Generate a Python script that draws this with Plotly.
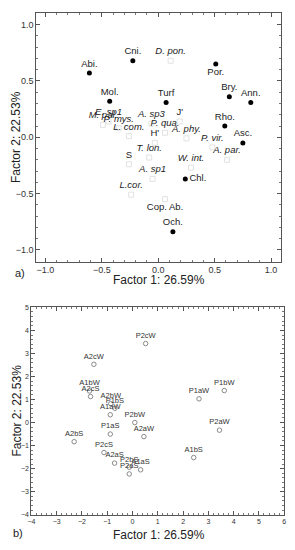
import plotly.graph_objects as go

# ---- Panel a) : factor loadings ----
# filled dots (taxa groups)
a_dot_labels = ["Abi.", "Cni.", "Mol.", "Por.", "Bry.", "Ann.", "Turf", "Rho.", "Asc.", "Chl.", "Och."]
a_dot_f1 = [-0.61, -0.225, -0.43, 0.51, 0.63, 0.82, 0.07, 0.59, 0.75, 0.24, 0.13]
a_dot_f2 = [0.57, 0.68, 0.32, 0.65, 0.36, 0.31, 0.31, 0.10, -0.05, -0.37, -0.84]

# open squares (species and indices)
a_open_labels = ["D. pon.", "E. sp1", "M. pal.", "P. mys.", "L. com.", "A. sp3", "P. qua.",
                 "J'", "A. phy.", "H'", "T. lon.", "S", "W. int.", "A. sp1", "L.cor.",
                 "P. vir.", "A. par.", "Cop. Ab."]
a_open_italic = [True, True, True, True, True, True, True,
                 False, True, False, True, False, True, True, True,
                 True, True, False]
a_open_f1 = [0.11, -0.44, -0.49, -0.35, -0.26, -0.06, 0.06,
             0.19, 0.25, -0.03, -0.08, -0.26, 0.29, -0.05, -0.24,
             0.48, 0.61, 0.06]
a_open_f2 = [0.68, 0.14, 0.11, 0.08, 0.01, 0.12, 0.04,
             0.14, -0.01, -0.05, -0.18, -0.24, -0.27, -0.37, -0.51,
             -0.09, -0.20, -0.55]

# ---- Panel b) : factor scores of samples ----
b_labels = ["P2cW", "A2cW", "A1bW", "A2cS", "A2bW", "P1bS", "A1aW", "P2bW", "A2aW",
            "P1aS", "A2bS", "P2cS", "A2aS", "P2bS", "A1aS", "P2aS",
            "P1bW", "P1aW", "P2aW", "A1bS"]
b_f1 = [0.52, -1.53, -1.70, -1.66, -0.86, -0.70, -0.88, 0.09, 0.45,
        -0.88, -2.31, -1.13, -0.71, -0.13, 0.32, -0.13,
        3.63, 2.63, 3.44, 2.42]
b_f2 = [3.43, 2.53, 1.37, 1.13, 0.82, 0.62, 0.34, 0.00, -0.61,
        -0.50, -0.83, -1.30, -1.76, -1.94, -2.05, -2.23,
        1.39, 1.03, -0.33, -1.52]

axis_title = "Factor 1: 26.59%"
axis_title_y = "Factor 2: 22.53%"

FONT = "Liberation Sans, Arial, sans-serif"

# label placement (style only)
a_dot_pos = {"Por.": "bottom center", "Chl.": "middle right"}
a_open_pos = {"Cop. Ab.": "bottom center"}

fig = go.Figure()

fig.add_trace(go.Scatter(
    x=a_open_f1, y=a_open_f2,
    mode="markers+text",
    text=[f"<i>{t}</i>" if it else t for t, it in zip(a_open_labels, a_open_italic)],
    textposition=[a_open_pos.get(t, "top center") for t in a_open_labels],
    textfont=dict(family=FONT, size=9.5, color="#222222"),
    marker=dict(symbol="square-open", size=5, color="#e2e2e2", line=dict(width=1)),
    xaxis="x", yaxis="y", showlegend=False, cliponaxis=False,
))
fig.add_trace(go.Scatter(
    x=a_dot_f1, y=a_dot_f2,
    mode="markers+text",
    text=a_dot_labels,
    textposition=[a_dot_pos.get(t, "top center") for t in a_dot_labels],
    textfont=dict(family=FONT, size=9.5, color="#222222"),
    marker=dict(symbol="circle", size=5, color="#000000"),
    xaxis="x", yaxis="y", showlegend=False, cliponaxis=False,
))
fig.add_trace(go.Scatter(
    x=b_f1, y=b_f2,
    mode="markers+text",
    text=b_labels,
    textposition="top center",
    textfont=dict(family=FONT, size=7.5, color="#333333"),
    marker=dict(symbol="circle-open", size=4.5, color="#8a8a8a", line=dict(width=1)),
    xaxis="x2", yaxis="y2", showlegend=False, cliponaxis=False,
))

common = dict(showgrid=False, zeroline=False, showline=True, linecolor="#555555",
              linewidth=1, mirror="ticks", ticks="inside", ticklen=4,
              tickcolor="#555555")

fig.update_layout(
    width=295, height=550,
    margin=dict(l=0, r=0, t=0, b=0),
    paper_bgcolor="white", plot_bgcolor="white",
    font=dict(family=FONT, color="#222222"),
    xaxis=dict(domain=[33/295, 283/295], range=[-1.08, 1.09], dtick=0.5, tick0=0,
               tickformat=".1f", tickfont=dict(size=9, color="#333333"),
               minor=dict(ticks="inside", dtick=0.1, ticklen=2, tickcolor="#777777"),
               anchor="y", **common),
    yaxis=dict(domain=[1-261/550, 1-9/550], range=[-1.105, 1.105], dtick=0.5, tick0=0,
               tickformat=".1f", tickfont=dict(size=9, color="#333333"),
               minor=dict(ticks="inside", dtick=0.1, ticklen=2, tickcolor="#777777"),
               anchor="x", **common),
    xaxis2=dict(domain=[28/295, 286/295], range=[-4, 6], dtick=1,
                tickfont=dict(size=7, color="#333333"),
                minor=dict(ticks="inside", dtick=0.2, ticklen=2, tickcolor="#777777"),
                anchor="y2", **common),
    yaxis2=dict(domain=[1-517.3/550, 1-307.3/550], range=[-4, 5], dtick=1,
                tickfont=dict(size=7, color="#333333"),
                minor=dict(ticks="inside", dtick=0.2, ticklen=2, tickcolor="#777777"),
                anchor="x2", **common),
    annotations=[
        dict(text=axis_title, x=158/295, y=1-280/550, xref="paper", yref="paper",
             showarrow=False, font=dict(size=12, color="#222222"), xanchor="center", yanchor="middle"),
        dict(text=axis_title_y, x=13/295, y=1-135/550, xref="paper", yref="paper", textangle=-90,
             showarrow=False, font=dict(size=12, color="#222222"), xanchor="center", yanchor="middle"),
        dict(text="a)", x=16/295, y=1-272/550, xref="paper", yref="paper",
             showarrow=False, font=dict(size=11, color="#222222"), xanchor="center", yanchor="middle"),
        dict(text=axis_title, x=158/295, y=1-538/550, xref="paper", yref="paper",
             showarrow=False, font=dict(size=12, color="#222222"), xanchor="center", yanchor="middle"),
        dict(text=axis_title_y, x=13/295, y=1-412/550, xref="paper", yref="paper", textangle=-90,
             showarrow=False, font=dict(size=12, color="#222222"), xanchor="center", yanchor="middle"),
        dict(text="b)", x=14/295, y=1-536/550, xref="paper", yref="paper",
             showarrow=False, font=dict(size=11, color="#222222"), xanchor="center", yanchor="middle"),
    ],
)

fig.write_html("out.html",
               config={"displayModeBar": False},
               post_script="document.body.style.margin='0';document.body.style.padding='0';")
